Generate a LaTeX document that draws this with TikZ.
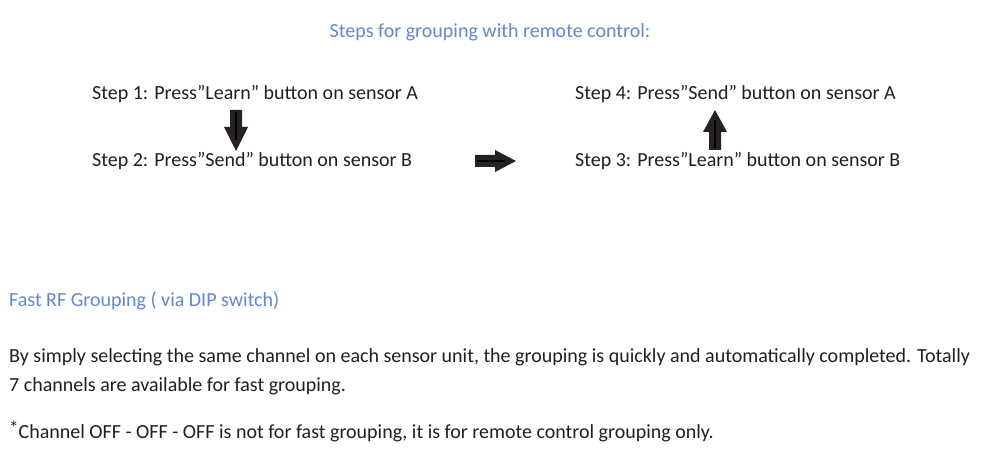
\documentclass[tikz,border=0pt]{standalone}
\usepackage{fontspec}
\setmainfont{Carlito}
\definecolor{headblue}{RGB}{98,136,206}
\definecolor{txt}{RGB}{35,31,32}
\definecolor{arrowfill}{RGB}{38,34,34}
\begin{document}
\begin{tikzpicture}[x=1pt,y=-1pt,
  body/.style={anchor=base west,inner sep=0pt,text=txt,font=\fontsize{20}{24}\selectfont},
  head/.style={anchor=base west,inner sep=0pt,text=headblue,font=\fontsize{20}{24}\selectfont},
  blockarrow/.style={fill=arrowfill,draw=none},
  innerline/.style={draw=black,line width=1.2pt}]
\path[use as bounding box,fill=white] (0,0) rectangle (981,454);
\node[head,anchor=base] (title) at (490,38) {Steps for grouping with remote control:};
\node[body] (s1) at (92,99.5) {Step 1: Press”Learn” button on sensor A};
\node[body] (s2) at (92,167) {Step 2: Press”Send” button on sensor B};
\node[body] (s4) at (575,99.5) {Step 4: Press”Send” button on sensor A};
\node[body] (s3) at (575,167) {Step 3: Press”Learn” button on sensor B};
% down arrow
\fill[blockarrow] (230,110) -- (242,110) -- (242,127) -- (248,127) -- (236,151) -- (224,127) -- (230,127) -- cycle;
\draw[innerline] (236,112) -- (236,140);
% right arrow
\fill[blockarrow] (475,155) -- (495,155) -- (495,150) -- (516,161) -- (495,172) -- (495,167) -- (475,167) -- cycle;
\draw[innerline] (477,161) -- (505,161);
% up arrow
\fill[blockarrow] (709,150) -- (721,150) -- (721,132) -- (727,132) -- (715,110) -- (703,132) -- (709,132) -- cycle;
\draw[innerline] (715,148) -- (715,120);
\node[head] (fast) at (9,306) {Fast RF Grouping ( via DIP switch)};
\node[body] (p1) at (9,362) {By simply selecting the same channel on each sensor unit, the grouping is quickly and automatically completed. Totally};
\node[body] (p2) at (9,391) {7 channels are available for fast grouping.};
\node[body] (p3) at (9,438) {\raisebox{4pt}{\fontsize{19}{19}\selectfont *}Channel OFF - OFF - OFF is not for fast grouping, it is for remote control grouping only.};
\end{tikzpicture}
\end{document}
